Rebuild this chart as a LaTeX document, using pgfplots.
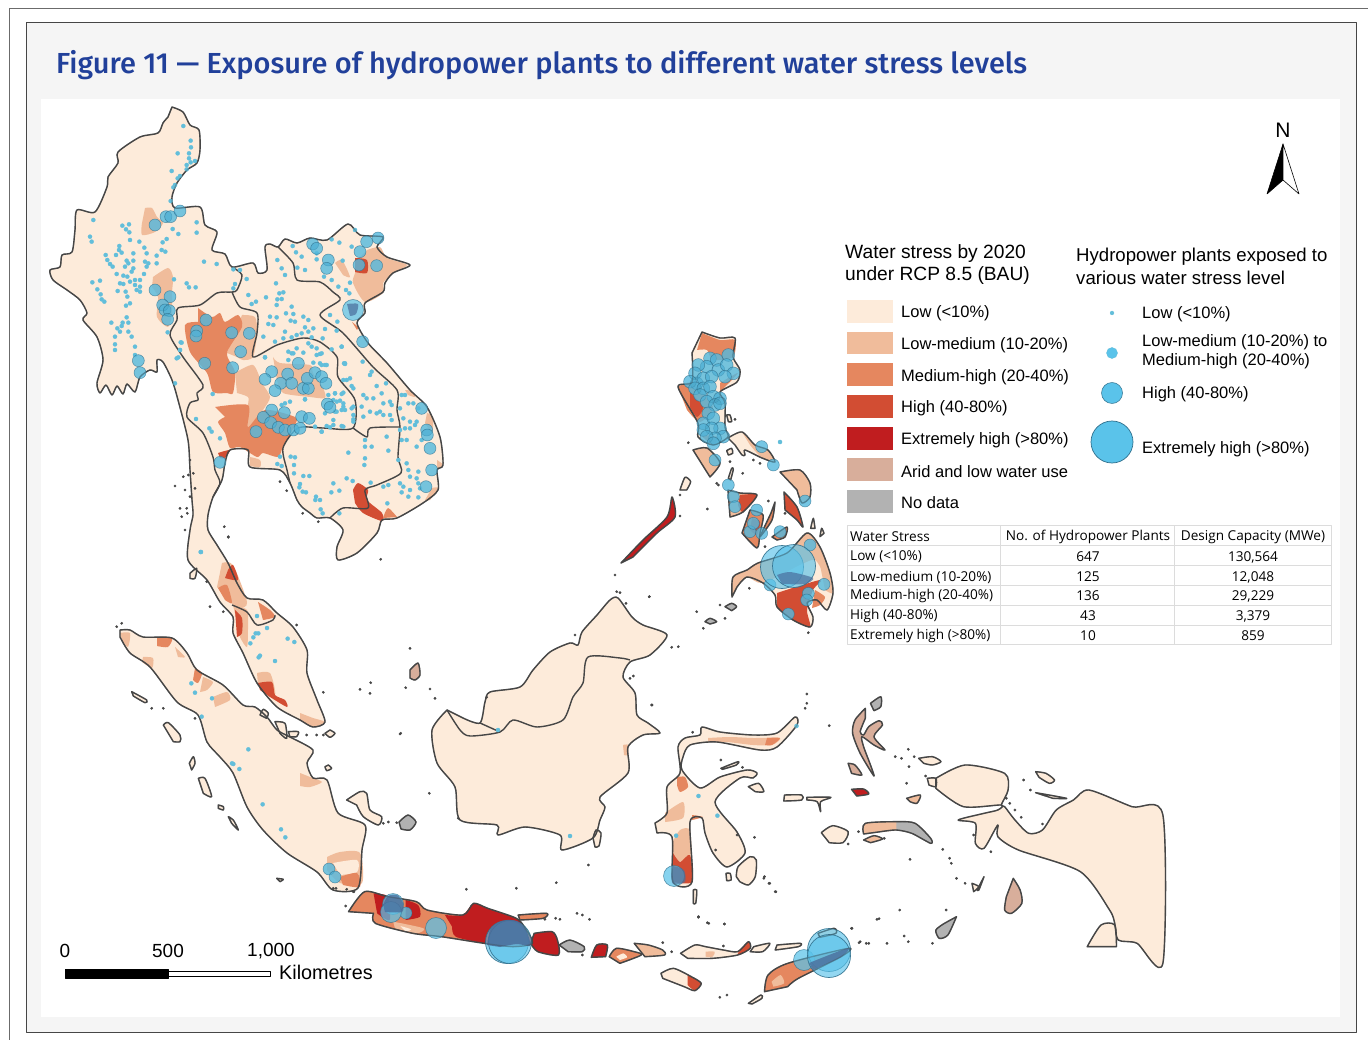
\documentclass[border=0pt]{standalone}
\usepackage{fontspec}
\usepackage{pgfplots}
\pgfplotsset{compat=1.18}
\setmainfont{Liberation Sans}
\newfontfamily\titlef[UprightFont=* Medium]{Fira Sans}
\newfontfamily\tabf{Open Sans}
\definecolor{low}{HTML}{FDEBDA}
\definecolor{lm}{HTML}{F0BC9B}
\definecolor{mh}{HTML}{E5875F}
\definecolor{hi}{HTML}{D24D33}
\definecolor{eh}{HTML}{C01D1F}
\definecolor{arid}{HTML}{D8AE9B}
\definecolor{nod}{HTML}{B2B2B2}
\definecolor{coast}{HTML}{464646}
\definecolor{cb}{HTML}{5AC3EA}
\definecolor{cbd}{HTML}{2F6F8C}
\definecolor{dotc}{HTML}{62BEDA}
\definecolor{titc}{HTML}{21409A}
\definecolor{tabl}{HTML}{DCDCDC}
\definecolor{dk}{HTML}{4A6E9C}
\newcommand\LL[2]{\addplot[#1] coordinates {#2} -- cycle;}
\newcommand\ZZ[5]{\addplot[#1] table[x expr={#2+#3*\thisrowno{0}},y expr={#4+\thisrowno{1}/3},header=false,row sep=\\]{#5} -- cycle;}
\newcommand\ZE[2]{\ZZ{#1}{320}{.357}{850}{#2}}
\newcommand\ZF[2]{\ZZ{#1}{640}{.344}{690}{#2}}
\newcommand\ZG[2]{\ZZ{#1}{100}{.3333}{530}{#2}}
\newcommand\ZC[2]{\ZZ{#1}{600}{.3333}{320}{#2}}
\newcommand\patch[2]{\addplot[fill=#1,draw=none,smooth,tension=.45] coordinates {#2} -- cycle;}
\newcommand\rect[2]{\addplot[fill=#1,draw=none] coordinates {#2} -- cycle;}
\newcommand\Alllands[1]{%
\LL{#1}{(172,107)(183,112)(190,125)(199,130)(200,150)(197,163)(187,170)(177,183)(172,197)(175,208)(200,207)(205,225)(217,232)(212,250)(225,254)(232,267)(253,263)(258,273)(267,270)(265,247)(270,244)(278,247)(285,239)(297,243)(310,238)(327,240)(348,224)(360,235)(383,237)(377,247)(387,257)(410,265)(393,273)(385,283)(383,292)(365,303)(365,313)(357,323)(368,343)(387,363)(410,390)(427,407)(440,437)(443,465)(437,470)(438,490)(423,503)(397,518)(382,520)(377,533)(357,553)(338,560)(337,547)(343,530)(330,518)(317,518)(310,513)(302,507)(297,500)(290,483)(280,470)(250,467)(248,450)(230,450)(225,463)(222,480)(213,497)(208,515)(208,530)(217,545)(228,563)(237,583)(247,598)(263,600)(277,613)(293,627)(307,650)(307,673)(317,700)(325,722)(313,727)(300,720)(277,707)(257,683)(243,653)(233,633)(233,617)(220,602)(207,580)(188,560)(190,530)(193,515)(192,500)(190,470)(188,440)(178,400)(172,380)(163,362)(157,360)(157,372)(150,370)(140,377)(135,392)(127,384)(123,394)(117,386)(112,395)(106,385)(100,393)(97,383)(103,360)(97,337)(83,320)(87,313)(80,300)(67,290)(53,280)(50,270)(60,267)(62,255)(72,252)(75,230)(77,210)(95,212)(107,187)(108,177)(118,163)(118,152)(140,137)(158,133)(163,123)(168,117)}
\LL{#1}{(120,630)(130,630)(143,637)(172,638)(187,653)(197,670)(223,685)(243,705)(255,707)(267,717)(277,730)(290,737)(313,750)(307,763)(313,778)(327,780)(338,813)(365,825)(362,850)(358,888)(333,890)(317,872)(287,853)(263,830)(247,807)(233,773)(220,757)(207,742)(198,715)(177,702)(150,667)(130,653)(120,637)}
\LL{#1}{(447,710)(432,730)(437,763)(455,787)(460,820)(497,825)(498,835)(525,827)(560,835)(562,850)(593,838)(600,820)(605,807)(600,797)(628,773)(628,747)(643,735)(660,733)(648,723)(637,715)(635,693)(623,677)(630,662)(650,655)(667,635)(643,625)(632,617)(618,598)(610,600)(597,615)(582,632)(578,645)(570,643)(550,652)(533,670)(520,687)(490,692)(485,702)(480,723)(463,718)}
\LL{#1}{(655,823)(667,813)(667,787)(680,773)(678,747)(685,738)(700,735)(702,727)(720,732)(753,735)(777,733)(795,717)(797,725)(777,747)(760,750)(717,742)(690,745)(683,757)(682,770)(700,788)(720,777)(747,770)(757,773)(753,778)(740,778)(715,802)(737,832)(745,853)(727,867)(713,853)(705,833)(702,818)(690,822)(692,882)(673,882)(672,837)(657,833)}
\ZF{#1}{860 265\\945 225\\1060 250\\1070 300\\1050 345\\1060 350\\1090 390\\1130 430\\1170 420\\1210 360\\1260 330\\1305 300\\1430 350\\1520 375\\1520 820\\1445 760\\1390 750\\1380 700\\1365 660\\1280 545\\1100 480\\1040 440\\1040 405\\1000 475\\975 460\\975 400\\925 390\\1000 370\\1040 360\\1050 345\\940 350\\860 295\\}
\ZF{#1}{1300 770\\1340 705\\1380 705\\1385 770\\}
\LL{#1}{(702,332)(720,338)(735,338)(733,357)(740,370)(737,382)(720,392)(725,403)(725,427)(728,437)(713,445)(698,437)(698,423)(678,387)(692,382)(692,353)}
\LL{#1}{(728,438)(742,432)(755,445)(768,450)(775,462)(762,458)(745,450)(745,455)(742,455)(735,445)}
\LL{#1}{(693,450)(707,448)(720,463)(710,477)}
\LL{#1}{(621,563)(643,540)(667,517)(672,497)(675,517)(657,533)(633,557)}
\LL{#1}{(780,472)(800,470)(810,483)(810,497)(802,503)(797,490)}
\LL{#1}{(784,492)(797,507)(803,527)(797,520)(785,510)}
\LL{#1}{(728,490)(740,493)(757,495)(743,512)(730,517)}
\LL{#1}{(750,510)(763,515)(760,533)(757,548)(742,533)}
\LL{#1}{(775,502)(772,520)(760,537)(763,530)(771,513)}
\LL{#1}{(772,537)(787,527)(785,537)(777,540)}
\LL{#1}{(732,597)(733,577)(747,570)(758,563)(787,553)(807,533)(820,547)(830,573)(833,593)(827,610)(817,600)(807,603)(813,617)(810,627)(793,620)(777,607)(775,595)(763,583)(747,577)(737,587)}
\ZC{#1}{380 285\\390 285\\395 305\\385 305\\}
\ZC{#1}{380 392\\395 385\\398 400\\385 405\\}
\ZC{#1}{385 475\\395 445\\400 448\\392 480\\}
\ZC{#1}{240 510\\255 472\\272 485\\260 510\\}
\ZC{#1}{632 625\\640 595\\645 625\\}
\ZC{#1}{660 650\\665 625\\672 640\\}
\ZC{#1}{375 860\\395 850\\410 860\\395 872\\}
\ZC{#1}{315 905\\330 895\\350 905\\330 912\\}
\ZE{#1}{80 185\\125 125\\190 140\\270 155\\300 180\\400 195\\430 160\\470 175\\550 205\\575 235\\595 280\\540 290\\460 280\\340 260\\260 250\\155 220\\150 190\\}
\ZE{#1}{555 195\\635 190\\625 205\\560 210\\}
\ZE{#1}{600 250\\650 245\\665 270\\668 315\\610 305\\590 280\\}
\ZE{#1}{670 285\\700 270\\740 290\\735 305\\695 305\\}
\ZE{#1}{760 322\\775 285\\805 285\\800 320\\}
\ZE{#1}{810 320\\830 295\\880 305\\900 315\\840 340\\}
\ZE{#1}{880 280\\920 285\\960 300\\965 315\\910 320\\}
\ZE{#1}{1010 310\\1050 285\\1080 290\\1130 300\\1170 305\\1200 275\\1205 295\\1170 315\\1100 325\\1030 325\\}
\ZE{#1}{955 370\\990 355\\1040 380\\1068 400\\1050 422\\1020 410\\960 385\\}
\ZE{#1}{1245 425\\1255 375\\1310 340\\1480 295\\1460 320\\1340 385\\1310 410\\}
\ZE{#1}{1215 290\\1260 280\\1240 305\\1205 305\\}
\ZE{#1}{1280 285\\1345 280\\1340 290\\1275 300\\}
\ZE{#1}{1395 250\\1440 235\\1445 250\\1400 262\\}
\ZE{#1}{1200 460\\1235 435\\1238 445\\1210 462\\}
\ZF{#1}{655 55\\625 90\\618 130\\640 190\\680 258\\670 225\\650 170\\645 140\\680 165\\712 180\\680 140\\705 105\\695 92\\665 110\\650 135\\640 125\\655 85\\}
\ZF{#1}{670 40\\700 20\\700 50\\680 62\\}
\ZF{#1}{605 220\\625 225\\645 255\\615 250\\}
\ZF{#1}{615 298\\650 297\\665 312\\630 318\\}
\ZF{#1}{420 315\\470 315\\470 330\\418 333\\}
\ZF{#1}{485 322\\555 322\\525 335\\525 365\\515 335\\485 330\\}
\ZF{#1}{527 428\\560 407\\605 425\\590 458\\550 458\\}
\ZF{#1}{650 432\\655 400\\750 395\\800 400\\845 445\\845 460\\790 430\\745 420\\700 425\\}
\ZF{#1}{650 450\\680 437\\705 447\\670 458\\}
\ZF{#1}{315 290\\345 280\\360 305\\335 305\\}
\ZF{#1}{235 235\\285 215\\280 225\\240 238\\}
\ZF{#1}{280 560\\285 530\\320 500\\338 510\\335 560\\315 585\\290 575\\}
\ZF{#1}{250 550\\262 550\\265 570\\252 572\\}
\ZF{#1}{155 600\\165 600\\162 640\\155 640\\}
\ZF{#1}{1150 245\\1180 250\\1205 270\\1190 280\\1160 262\\}
\ZF{#1}{1150 308\\1240 325\\1200 325\\}
\ZF{#1}{775 325\\815 315\\805 340\\785 335\\}
\ZF{#1}{810 205\\850 200\\875 215\\850 225\\825 220\\}
\ZF{#1}{835 265\\860 265\\860 290\\840 285\\}
\ZF{#1}{1085 565\\1105 600\\1110 640\\1080 670\\1060 660\\1065 620\\}
\ZF{#1}{920 680\\895 735\\870 745\\860 720\\885 700\\}
\ZF{#1}{965 580\\985 590\\970 605\\}
\ZF{#1}{1000 560\\985 600\\980 600\\}
\ZG{#1}{95 485\\140 510\\135 518\\100 498\\}
\ZG{#1}{190 585\\205 578\\240 615\\240 635\\220 635\\}
\ZG{#1}{268 700\\280 680\\285 700\\275 720\\}
\ZG{#1}{295 745\\315 745\\335 800\\310 790\\}
\ZG{#1}{355 825\\370 830\\370 840\\355 835\\}
\ZG{#1}{385 860\\400 870\\415 900\\395 880\\}
\ZG{#1}{270 130\\290 115\\285 145\\270 145\\}
\ZG{#1}{480 555\\490 538\\505 550\\500 565\\}
\ZG{#1}{740 810\\780 785\\800 790\\810 840\\845 860\\835 885\\790 860\\770 825\\}
\ZG{#1}{690 600\\705 610\\690 622\\675 610\\}
\ZG{#1}{685 705\\695 715\\680 722\\675 710\\}
\ZG{#1}{525 575\\555 580\\560 625\\540 610\\}
\ZG{#1}{565 605\\595 605\\590 620\\570 620\\}
\ZG{#1}{530 1045\\550 1048\\540 1055\\}
\LL{#1}{(410,670)(418,663)(420,675)(415,680)(410,678)}
\LL{#1}{(399,822)(408,815)(416,822)(410,830)(401,829)}
\LL{#1}{(593,838)(596,830)(601,833)(599,846)(595,847)}
}
\newcommand\MidC[1]{%
\addplot[only marks,mark=*,mark size=6pt,mark options={#1}] table[x expr={40+\thisrowno{0}/3},y expr={100+\thisrowno{1}/3},header=false,row sep=\\] {345 375\\378 350\\392 350\\345 570\\390 590\\368 615\\375 630\\388 632\\383 658\\295 782\\300 818\\498 660\\470 693\\468 708\\575 698\\628 700\\602 755\\494 790\\578 803\\1010 497\\957 495\\960 455\\980 425\\865 480\\860 505\\818 432\\830 445\\968 725\\};
\addplot[only marks,mark=*,mark size=6pt,mark options={#1}] table[x expr={170+\thisrowno{0}/3},y expr={300+\thisrowno{1}/3},header=false,row sep=\\] {755 325\\770 390\\772 405\\780 445\\785 510\\768 560\\150 487\\};
\addplot[only marks,mark=*,mark size=6pt,mark options={#1}] table[x expr={250+\thisrowno{0}/3},y expr={350+\thisrowno{1}/3},header=false,row sep=\\] {65 65\\45 88\\113 72\\92 100\\125 100\\75 122\\65 180\\103 188\\40 202\\62 218\\85 232\\105 240\\130 240\\155 200\\178 205\\232 162\\240 172\\160 115\\175 115\\172 85\\195 68\\215 80\\228 100\\145 40\\18 245\\150 235\\};
\addplot[only marks,mark=*,mark size=6.4pt,mark options={#1}] table[x expr={670+\thisrowno{0}/3},y expr={340+\thisrowno{1}/3},header=false,row sep=\\] {120 55\\175 45\\140 60\\110 80\\85 75\\75 100\\145 90\\170 75\\190 100\\165 110\\80 130\\100 115\\125 110\\60 125\\75 145\\100 145\\120 140\\130 170\\150 175\\90 165\\110 185\\135 195\\115 220\\100 250\\130 235\\150 265\\125 265\\100 270\\150 190\\160 290\\135 295\\110 290\\130 310\\};
\addplot[only marks,mark=*,mark size=6pt,mark options={#1}] table[x expr={600+\thisrowno{0}/3},y expr={320+\thisrowno{1}/3},header=false,row sep=\\] {485 380\\345 420\\520 435\\385 495\\400 530\\405 560\\470 570\\450 635\\485 640\\460 610\\540 635\\615 543\\625 820\\620 840\\672 793\\565 882\\630 675\\510 795\\};
\addplot[only marks,mark=*,mark size=6pt,mark options={#1}] coordinates {(329,869)(335,877)(406,913)(378,238)(180,211)};
}
\begin{document}
\begin{tikzpicture}
\begin{axis}[hide axis,scale only axis,width=1368pt,height=1040pt,xmin=0,xmax=1368,ymin=0,ymax=1040,y dir=reverse,line join=round,clip marker paths=true,
 /pgf/number format/assume math mode=true]
\addplot[fill=white,draw=none] coordinates {(0,0)(1368,0)(1368,1040)(0,1040)} -- cycle;
\addplot[draw=coast!80,line width=.7pt] coordinates {(1368,8)(9,8)(9,1040)};
\addplot[fill=black!4,draw=coast,line width=.7pt] coordinates {(26,22)(1356,22)(1356,1032)(26,1032)} -- cycle;
\addplot[fill=white,draw=none] coordinates {(41,99)(1340,99)(1340,1017)(41,1017)} -- cycle;
\Alllands{fill=low,draw=none,smooth,tension=.45}
\ZF{fill=arid,draw=none,smooth,tension=.45}{655 55\\625 90\\618 130\\640 190\\680 258\\670 225\\650 170\\645 140\\680 165\\712 180\\680 140\\705 105\\695 92\\665 110\\650 135\\640 125\\655 85\\}
\ZF{fill=arid,draw=none,smooth,tension=.45}{1085 565\\1105 600\\1110 640\\1080 670\\1060 660\\1065 620\\}
\ZF{fill=arid,draw=none,smooth,tension=.45}{605 220\\625 225\\645 255\\615 250\\}
\ZF{fill=nod,draw=none,smooth,tension=.45}{670 40\\700 20\\700 50\\680 62\\}
\ZF{fill=nod,draw=none,smooth,tension=.45}{920 680\\895 735\\870 745\\860 720\\885 700\\}
\ZF{fill=eh,draw=none,smooth,tension=.45}{615 298\\650 297\\665 312\\630 318\\}
\ZF{fill=lm,draw=none,smooth,tension=.45}{775 325\\815 315\\805 340\\785 335\\}
\ZF{fill=lm,draw=none,smooth,tension=.45}{650 432\\655 400\\750 395\\745 420\\700 425\\}
\ZF{fill=nod,draw=none,smooth,tension=.45}{745 395\\800 400\\845 445\\845 460\\790 430\\745 420\\}
\ZF{fill=lm,draw=none,smooth,tension=.45}{650 450\\680 437\\705 447\\670 458\\}
\patch{nod}{(399,822)(408,815)(416,822)(410,830)(401,829)}
\patch{arid}{(410,670)(418,663)(420,675)(415,680)(410,678)}
\ZC{fill=nod,draw=none,smooth,tension=.45}{375 860\\395 850\\410 860\\395 872\\}
\ZC{fill=nod,draw=none,smooth,tension=.45}{315 905\\330 895\\350 905\\330 912\\}
\ZE{fill=mh,draw=none,smooth,tension=.45}{80 185\\125 125\\190 140\\270 155\\300 180\\400 195\\430 160\\470 175\\550 205\\575 235\\595 280\\540 290\\460 280\\340 260\\260 250\\155 220\\150 190\\}
\ZE{fill=eh,draw=none,smooth,tension=.45}{150 130\\190 140\\195 210\\160 190\\}
\ZE{fill=eh,draw=none,smooth,tension=.45}{240 150\\275 165\\280 200\\240 210\\}
\ZE{fill=eh,draw=none,smooth,tension=.45}{350 195\\400 195\\430 160\\470 175\\550 205\\575 235\\595 280\\540 290\\460 280\\380 260\\370 230\\}
\ZE{fill=lm,draw=none,smooth,tension=.45}{205 215\\290 235\\270 250\\210 235\\}
\ZE{fill=low,draw=none,smooth,tension=.45}{225 228\\255 238\\240 245\\}
\ZE{fill=mh,draw=none,smooth,tension=.45}{555 195\\635 190\\625 205\\560 210\\}
\ZE{fill=eh,draw=none,smooth,tension=.45}{600 250\\650 245\\665 270\\668 315\\610 305\\590 280\\}
\ZE{fill=nod,draw=none,smooth,tension=.45}{670 285\\700 270\\740 290\\735 305\\695 305\\}
\ZE{fill=eh,draw=none,smooth,tension=.45}{760 322\\775 285\\805 285\\800 320\\}
\ZE{fill=mh,draw=none,smooth,tension=.45}{810 320\\830 295\\880 305\\900 315\\840 340\\}
\ZE{fill=low,draw=none,smooth,tension=.45}{830 320\\850 310\\860 322\\840 330\\}
\ZE{fill=lm,draw=none,smooth,tension=.45}{880 280\\920 285\\960 300\\965 315\\910 320\\}
\ZE{fill=lm,draw=none,smooth,tension=.45}{1080 305\\1105 305\\1100 320\\1080 320\\}
\ZE{fill=hi,draw=none,smooth,tension=.45}{1170 310\\1200 275\\1205 295\\1175 315\\}
\ZE{fill=hi,draw=none,smooth,tension=.45}{1030 375\\1068 400\\1050 422\\1030 405\\}
\ZE{fill=mh,draw=none,smooth,tension=.45}{1245 425\\1255 375\\1310 340\\1480 295\\1460 320\\1340 385\\1310 410\\}
\ZE{fill=lm,draw=none,smooth,tension=.45}{1265 395\\1290 375\\1300 400\\1270 410\\}
\patch{lm}{(708,738)(730,737)(753,738)(780,738)(772,745)(753,745)(727,742)(708,742)}
\patch{mh}{(767,738)(780,738)(772,745)(765,745)}
\patch{mh}{(677,777)(685,777)(688,787)(680,792)(677,785)}
\patch{lm}{(665,813)(683,802)(683,818)(665,822)}
\patch{lm}{(672,843)(680,830)(690,830)(690,857)(673,862)}
\patch{hi}{(673,853)(680,862)(690,855)(692,882)(673,882)}
\patch{mh}{(692,815)(703,817)(692,820)}
\patch{lm}{(222,563)(233,565)(247,602)(240,608)(230,602)(217,587)}
\patch{mh}{(218,588)(227,585)(232,603)(225,600)}
\patch{hi}{(228,570)(233,565)(238,580)(225,578)}
\patch{lm}{(233,605)(247,610)(248,627)(247,647)(240,637)(237,623)}
\patch{hi}{(235,610)(242,618)(242,633)(237,637)}
\patch{mh}{(258,602)(270,610)(275,617)(263,620)}
\patch{lm}{(257,673)(270,673)(275,695)(258,685)}
\patch{hi}{(258,683)(272,682)(275,695)(285,700)(287,707)(270,697)(260,690)}
\patch{lm}{(300,713)(313,718)(325,722)(313,727)(300,720)}
\patch{mh}{(157,638)(172,638)(168,647)(157,646)}
\patch{lm}{(120,633)(130,633)(128,647)(122,640)}
\patch{lm}{(143,657)(153,658)(152,668)(142,662)}
\patch{lm}{(175,647)(185,657)(178,657)}
\patch{mh}{(195,668)(202,673)(198,683)(193,680)}
\patch{lm}{(203,677)(213,682)(207,690)(200,692)}
\patch{lm}{(213,697)(227,692)(230,700)(215,707)}
\patch{lm}{(300,773)(310,777)(322,782)(310,787)(300,786)}
\patch{lm}{(327,857)(340,852)(360,853)(362,883)(340,883)(327,870)}
\patch{low}{(333,863)(357,860)(357,872)(340,875)}
\patch{mh}{(340,877)(357,873)(360,887)(343,885)}
\patch{lm}{(623,745)(628,745)(628,755)(624,755)}
\patch{lm}{(145,208)(152,208)(157,217)(163,223)(155,232)(142,235)(142,223)}
\patch{lm}{(153,277)(168,268)(173,277)(172,293)(172,313)(168,327)(157,317)(158,297)(152,287)}
\patch{lm}{(367,250)(380,247)(387,258)(407,265)(393,273)(383,283)(383,293)(365,302)(353,283)(355,273)(357,260)}
\patch{hi}{(355,258)(367,260)(367,273)(355,272)}
\patch{lm}{(335,263)(342,260)(350,277)(343,275)}
\patch{mh}{(352,322)(358,327)(357,330)}
\patch{lm}{(242,315)(255,317)(257,333)(253,357)(243,360)(237,357)(227,353)}
\patch{mh}{(198,308)(212,317)(220,313)(225,322)(238,315)(242,327)(227,353)(235,372)(233,393)(227,393)(213,392)(207,373)(190,352)(185,325)(198,322)}
\patch{lm}{(235,373)(253,365)(262,383)(270,397)(263,410)(250,427)(247,423)(248,405)(248,397)(237,393)}
\patch{mh}{(215,407)(248,405)(248,427)(265,410)(295,417)(295,425)(283,447)(278,457)(263,453)(257,457)(240,447)(230,448)(225,433)(218,422)(225,417)}
\patch{lm}{(273,357)(280,363)(310,365)(313,373)(323,388)(325,398)(310,397)(283,393)(277,380)}
\patch{lm}{(250,457)(260,460)(260,467)(250,466)}
\patch{hi}{(218,453)(230,450)(225,458)(220,458)}
\patch{hi}{(353,490)(358,483)(368,490)(367,500)(382,513)(382,521)(363,513)(355,503)}
\patch{mh}{(383,518)(388,508)(397,517)}
\patch{lm}{(427,413)(433,417)(432,433)(425,423)}
\patch{lm}{(437,460)(443,465)(437,470)}
\patch{lm}{(405,390)(411,391)(415,397)(408,395)}
\patch{lm}{(432,488)(438,488)(430,500)(425,500)}
\patch{mh}{(702,333)(720,340)(735,340)(733,357)(713,360)(707,350)(697,350)}
\patch{mh}{(678,387)(692,383)(713,407)(700,422)(687,410)}
\patch{hi}{(690,392)(703,407)(697,417)(690,407)}
\patch{mh}{(720,383)(738,373)(720,392)}
\patch{mh}{(698,433)(713,445)(717,437)(703,435)}
\patch{lm}{(742,432)(755,445)(768,450)(775,462)(762,458)(750,445)}
\patch{lm}{(693,450)(707,448)(720,463)(710,477)}
\patch{eh}{(621,563)(643,540)(667,517)(672,497)(675,517)(657,533)(633,557)}
\patch{lm}{(780,472)(800,470)(810,483)(810,497)(802,503)(797,490)}
\patch{hi}{(784,492)(797,507)(803,527)(797,520)(785,510)}
\patch{lm}{(728,490)(740,493)(757,495)(743,512)(730,517)}
\patch{hi}{(740,495)(757,495)(743,512)(738,505)}
\patch{mh}{(750,510)(763,515)(760,533)(757,548)(742,533)}
\patch{hi}{(752,518)(760,522)(757,535)(750,530)}
\patch{mh}{(775,502)(772,520)(760,537)(763,530)(771,513)}
\patch{mh}{(772,537)(787,527)(785,537)(777,540)}
\patch{lm}{(732,597)(733,577)(747,570)(758,563)(787,553)(807,533)(820,547)(830,573)(825,575)(815,560)(800,565)(763,583)(747,577)(737,587)}
\patch{hi}{(777,593)(820,580)(813,590)(807,610)(810,627)(793,620)(777,607)}
\patch{mh}{(815,590)(825,597)(820,605)(812,608)}
\patch{lm}{(820,565)(830,573)(833,593)(825,590)}
\Alllands{fill=none,draw=coast,line width=1.4pt,smooth,tension=.45}
\addplot[draw=coast,line width=1.4pt,smooth,tension=.45] coordinates {(232,267)(242,275)(237,290)(232,292)(217,293)(200,305)(178,308)(177,320)(170,335)(183,357)(203,385)(197,393)(198,400)(190,403)(187,417)(203,433)(213,457)(215,470)(220,483)(213,497)};
\addplot[draw=coast,line width=1.4pt,smooth,tension=.45] coordinates {(232,292)(240,307)(257,313)(257,333)(253,357)(277,345)(303,338)(320,342)(337,357)(338,377)(355,400)(353,428)(323,428)(298,428)(283,448)(287,470)(290,483)};
\addplot[draw=coast,line width=1.4pt,smooth,tension=.45] coordinates {(278,247)(293,263)(297,280)(320,282)(333,292)(340,300)(320,315)(343,333)(373,367)(397,390)(397,410)(400,427)(398,457)(401,473)(377,485)(365,490)(368,508)(343,508)(330,518)};
\addplot[draw=coast,line width=1.4pt,smooth,tension=.45] coordinates {(353,428)(367,437)(370,428)(400,427)};
\addplot[draw=coast,line width=1.4pt,smooth,tension=.45] coordinates {(232,605)(247,612)(257,625)(273,620)(275,615)};
\addplot[draw=coast,line width=1.4pt,smooth,tension=.45] coordinates {(447,710)(460,730)(470,736)(500,732)(513,720)(537,727)(563,720)(573,697)(583,683)(588,657)(620,658)(630,660)};
\addplot[draw=coast,line width=1.4pt] coordinates {(480,723)(500,732)};
\addplot[only marks,mark=*,mark size=1.2pt,coast] table[x expr={170+\thisrowno{0}/3},y expr={300+\thisrowno{1}/3},header=false,row sep=\\] {60 480\\55 525\\40 530\\70 520\\45 570\\75 565\\60 590\\30 625\\50 625\\52 640\\45 690\\35 650\\15 558\\163 680\\175 710\\330 545\\350 572\\398 640\\445 665\\632 778\\};
\addplot[only marks,mark=*,mark size=1.2pt,coast] table[x expr={600+\thisrowno{0}/3},y expr={320+\thisrowno{1}/3},header=false,row sep=\\] {265 368\\405 298\\460 420\\480 430\\390 425\\428 460\\350 490\\355 495\\322 567\\240 525\\240 588\\505 543\\555 580\\45 765\\50 815\\148 830\\290 875\\360 855\\375 895\\310 925\\625 938\\495 680\\448 805\\};
\addplot[only marks,mark=*,mark size=1.2pt,coast] table[x expr={400+\thisrowno{0}/3},y expr={590+\thisrowno{1}/3},header=false,row sep=\\] {30 175\\17 293\\90 297\\105 325\\2 430\\525 135\\748 20\\815 172\\835 170\\755 345\\678 40\\700 258\\690 265\\88 610\\175 685\\660 8\\260 322\\};
\addplot[only marks,mark=*,mark size=1.2pt,coast] table[x expr={100+\thisrowno{0}/3},y expr={530+\thisrowno{1}/3},header=false,row sep=\\] {50 290\\65 280\\385 22\\330 230\\370 245\\320 155\\590 285\\670 487\\780 478\\812 458\\810 490\\900 612\\850 880\\155 535\\190 535\\285 565\\700 1075\\740 1078\\760 1085\\865 876\\890 878\\620 615\\650 615\\670 615\\};
\addplot[only marks,mark=*,mark size=1.2pt,coast] table[x expr={640+.344*\thisrowno{0}},y expr={690+\thisrowno{1}/3},header=false,row sep=\\] {35 45\\485 12\\485 40\\480 55\\550 107\\153 127\\235 210\\298 232\\170 680\\200 700\\245 702\\360 565\\375 580\\395 605\\615 715\\695 686\\755 660\\640 755\\665 760\\718 760\\768 738\\780 755\\850 760\\890 660\\920 565\\945 580\\785 508\\905 520\\880 478\\900 505\\1115 270\\1135 300\\742 200\\760 205\\780 178\\797 200\\782 230\\775 280\\830 258\\635 425\\605 462\\710 445\\970 435\\1020 485\\1065 325\\1075 340\\1090 360\\1108 382\\1170 402\\282 435\\333 442\\220 480\\};
\addplot[only marks,mark=*,mark size=1.2pt,coast] table[x expr={320+.357*\thisrowno{0}},y expr={850+\thisrowno{1}/3},header=false,row sep=\\] {72 168\\410 118\\550 115\\662 98\\752 45\\630 208\\660 205\\672 208\\735 315\\720 190\\735 195\\755 208\\960 278\\985 305\\1130 288\\1060 202\\1085 218\\1133 222\\1140 435\\1120 442\\1245 80\\1260 100\\1275 125\\1490 235\\1560 208\\1510 278\\1530 280\\45 115\\95 125\\};
\addplot[only marks,mark=*,mark size=2.1pt,mark options={fill=dotc,draw=dotc,line width=.2pt}] table[x expr={40+\thisrowno{0}/3},y expr={100+\thisrowno{1}/3},header=false,row sep=\\] {430 78\\452 122\\453 142\\413 160\\447 160\\447 175\\452 187\\465 183\\440 195\\440 208\\395 213\\420 228\\413 235\\405 255\\400 262\\392 303\\160 360\\247 377\\267 373\\258 388\\268 397\\398 387\\415 402\\470 367\\470 398\\150 410\\155 425\\270 420\\298 425\\313 443\\380 417\\368 427\\238 438\\237 450\\365 450\\376 455\\280 460\\320 460\\350 467\\197 465\\228 465\\245 458\\350 490\\492 485\\530 492\\202 480\\210 492\\218 500\\315 485\\325 490\\260 482\\280 482\\265 490\\255 500\\280 505\\275 515\\230 522\\250 527\\262 530\\312 522\\320 500\\285 540\\300 540\\270 545\\157 547\\180 542\\240 550\\250 552\\285 555\\300 560\\290 570\\300 575\\172 568\\182 583\\185 598\\193 605\\233 573\\257 575\\262 590\\270 610\\258 617\\402 538\\440 550\\447 562\\467 562\\214 668\\248 668\\260 652\\265 668\\245 678\\232 685\\240 695\\225 710\\225 733\\225 750\\265 695\\275 710\\285 740\\285 765\\383 697\\425 728\\420 750\\410 775\\580 508\\600 510\\620 537\\585 552\\580 565\\625 585\\635 612\\648 605\\678 592\\708 550\\735 525\\725 505\\712 480\\718 580\\730 577\\712 598\\725 597\\710 615\\755 620\\738 640\\760 642\\752 662\\765 665\\690 650\\710 652\\685 672\\700 675\\670 710\\705 725\\730 715\\755 712\\770 705\\735 695\\790 650\\805 660\\795 682\\820 685\\855 687\\805 695\\785 700\\848 715\\815 712\\875 748\\905 740\\912 790\\968 785\\870 645\\892 665\\890 692\\918 570\\928 580\\930 548\\895 560\\875 540\\852 530\\795 510\\772 503\\768 457\\785 470\\758 438\\830 478\\830 460\\875 418\\898 428\\935 440\\908 482\\945 390\\745 755\\755 760\\770 745\\805 730\\815 740\\830 745\\845 760\\840 790\\855 795\\};
\addplot[only marks,mark=*,mark size=2.1pt,mark options={fill=dotc,draw=dotc,line width=.2pt}] table[x expr={170+\thisrowno{0}/3},y expr={300+\thisrowno{1}/3},header=false,row sep=\\] {32 127\\30 150\\25 172\\128 282\\78 357\\118 385\\125 395\\150 415\\15 250\\92 756\\285 172\\515 140\\525 190\\520 240\\530 240\\545 258\\495 280\\515 282\\405 298\\500 305\\520 310\\550 320\\465 340\\495 335\\515 330\\525 330\\550 345\\550 365\\470 378\\490 375\\515 378\\455 395\\575 320\\580 350\\580 285\\590 295\\605 215\\600 225\\620 258\\648 250\\635 280\\610 295\\640 310\\660 305\\665 315\\690 325\\600 335\\620 340\\630 335\\640 345\\660 345\\665 360\\695 285\\705 285\\715 310\\730 310\\745 325\\650 410\\700 355\\720 365\\740 365\\690 390\\705 385\\720 385\\695 420\\710 420\\735 375\\740 440\\755 420\\585 420\\605 440\\585 440\\655 452\\535 458\\585 475\\583 495\\710 490\\715 510\\745 515\\685 480\\690 550\\700 560\\720 530\\740 535\\745 550\\750 565\\720 570\\655 555\\640 560\\602 548\\530 535\\548 543\\490 550\\508 572\\484 577\\418 528\\400 528\\372 520\\390 552\\388 562\\398 575\\408 577\\438 590\\436 600\\450 600\\452 628\\458 640\\508 640\\652 610\\695 577\\715 590\\745 592\\362 470\\375 472\\372 495\\330 470\\322 492\\335 498\\};
\addplot[only marks,mark=*,mark size=2.1pt,mark options={fill=dotc,draw=dotc,line width=.2pt}] table[x expr={250+\thisrowno{0}/3},y expr={350+\thisrowno{1}/3},header=false,row sep=\\] {45 22\\115 30\\130 10\\160 8\\200 15\\210 12\\190 38\\215 45\\230 45\\285 42\\300 85\\310 115\\280 128\\255 130\\235 135\\250 150\\270 152\\280 170\\260 185\\250 210\\305 175\\310 208\\120 155\\105 160\\95 165\\165 148\\280 230\\240 232\\215 245\\195 230\\};
\addplot[only marks,mark=*,mark size=2.1pt,mark options={fill=dotc,draw=dotc,line width=.2pt}] table[x expr={100+\thisrowno{0}/3},y expr={530+\thisrowno{1}/3},header=false,row sep=\\] {303 66\\471 258\\501 294\\467 310\\475 310\\460 322\\451 340\\563 326\\583 336\\480 377\\476 382\\525 393\\274 460\\285 488\\336 505\\305 560\\445 658\\396 700\\400 702\\418 717\\488 823\\543 898\\556 922\\};
\addplot[only marks,mark=*,mark size=2.1pt,mark options={fill=dotc,draw=dotc,line width=.2pt}] table[x expr={640+.344*\thisrowno{0}},y expr={690+\thisrowno{1}/3},header=false,row sep=\\] {170 318\\225 377\\105 437\\455 108\\};
\addplot[only marks,mark=*,mark size=2.1pt,mark options={fill=dotc,draw=dotc,line width=.2pt}] coordinates {(498,730)(570,836)(780,442)};
\MidC{fill=cb,fill opacity=.8,draw=cbd,draw opacity=.55,line width=.5pt}
\MidC{fill=black,fill opacity=.04,draw=cbd,draw opacity=.2,line width=.4pt}
\addplot[only marks,mark=*,mark size=10.5pt,mark options={fill=cb,fill opacity=.72,draw=cbd,draw opacity=.8,line width=.5pt}] coordinates {(353,310)(393,904)(391,912)(436,928)(674,876)(804,960)};
\addplot[only marks,mark=*,mark size=21.5pt,mark options={fill=cb,fill opacity=.65,draw=cbd,draw opacity=.9,line width=.7pt}] coordinates {(782,567)(794,566)(507,942)(510,942)(829,950)(829,956)};
\addplot[fill=dk,fill opacity=.85,draw=none,smooth,tension=.45] coordinates {(487,945)(490,930)(497,923)(507,920)(517,921)(525,928)(529,938)(530,946)(517,944)(500,947)} -- cycle;
\addplot[fill=dk,fill opacity=.8,draw=none,smooth,tension=.45] coordinates {(809,963)(848,948)(841,957)(813,970)} -- cycle;
\addplot[fill=dk,fill opacity=.7,draw=none,smooth,tension=.45] coordinates {(777,575)(790,572)(813,578)(805,584)(782,584)} -- cycle;
\addplot[fill=dk,fill opacity=.8,draw=none,smooth,tension=.45] coordinates {(383,905)(388,896)(397,895)(403,903)(402,912)(385,912)} -- cycle;
\addplot[fill=dk,fill opacity=.6,draw=none,smooth,tension=.45] coordinates {(673,866)(684,870)(685,882)(673,884)(671,875)} -- cycle;
\addplot[fill=dk,fill opacity=.7,draw=none,smooth,tension=.45] coordinates {(347,304)(358,304)(356,314)(350,316)} -- cycle;
% coast showing through the plant circles
\Alllands{fill=none,draw=coast,draw opacity=.35,line width=1.2pt,smooth,tension=.45}
\rect{low}{(847,300)(893,300)(893,323)(847,323)}
\rect{lm}{(847,332)(893,332)(893,354)(847,354)}
\rect{mh}{(847,363)(893,363)(893,386)(847,386)}
\rect{hi}{(847,395)(893,395)(893,418)(847,418)}
\rect{eh}{(847,427)(893,427)(893,450)(847,450)}
\rect{arid}{(847,458)(893,458)(893,481)(847,481)}
\rect{nod}{(847,490)(893,490)(893,513)(847,513)}
\addplot[only marks,mark=*,mark size=2pt,mark options={fill=dotc,draw=dotc,line width=.2pt}] coordinates {(1112,313)};
\addplot[only marks,mark=*,mark size=5.5pt,mark options={fill=cb,draw=dotc}] coordinates {(1112,353)};
\addplot[only marks,mark=*,mark size=10.5pt,mark options={fill=cb,draw=cbd,line width=.5pt}] coordinates {(1112,393)};
\addplot[only marks,mark=*,mark size=21pt,mark options={fill=cb,draw=cbd,line width=.7pt}] coordinates {(1112,442)};
\addplot[draw=tabl,line width=.7pt] coordinates {(847,525)(1331,525)(1331,644)(847,644)(847,525)};
\addplot[draw=tabl,line width=.7pt] coordinates {(847,545)(1331,545)};
\addplot[draw=tabl,line width=.7pt] coordinates {(847,565)(1331,565)};
\addplot[draw=tabl,line width=.7pt] coordinates {(847,585)(1331,585)};
\addplot[draw=tabl,line width=.7pt] coordinates {(847,605)(1331,605)};
\addplot[draw=tabl,line width=.7pt] coordinates {(847,625)(1331,625)};
\addplot[draw=tabl,line width=.7pt] coordinates {(1000,525)(1000,644)};
\addplot[draw=tabl,line width=.7pt] coordinates {(1174,525)(1174,644)};
\addplot[fill=black,draw=black,line width=.6pt] coordinates {(1283,144)(1267,194)(1283,180)} -- cycle;
\addplot[fill=white,draw=black,line width=.6pt] coordinates {(1283,144)(1299,194)(1283,180)} -- cycle;
\addplot[fill=black,draw=black,line width=.6pt] coordinates {(65,969)(168,969)(168,978)(65,978)} -- cycle;
\addplot[fill=white,draw=black,line width=.6pt] coordinates {(168,971)(270,971)(270,976)(168,976)} -- cycle;
\node[anchor=west,inner sep=0,text=titc] at (axis cs:56,65) {\titlef\fontsize{29}{31}\selectfont Figure 11 — Exposure of hydropower plants to different water stress levels};
\node[inner sep=0] at (axis cs:1283,130) {\fontsize{21}{22}\selectfont N};
\node[inner sep=0] at (axis cs:65,951) {\fontsize{19}{21}\selectfont 0};
\node[inner sep=0] at (axis cs:168,951) {\fontsize{19}{21}\selectfont 500};
\node[inner sep=0] at (axis cs:271,951) {\fontsize{19}{21}\selectfont 1,000};
\node[anchor=west,inner sep=0] at (axis cs:279,972) {\fontsize{19.8}{21}\selectfont Kilometres};
\node[anchor=west,inner sep=0] at (axis cs:845,254) {\fontsize{19.2}{21}\selectfont Water stress by 2020};
\node[anchor=west,inner sep=0] at (axis cs:845,276) {\fontsize{19.2}{21}\selectfont under RCP 8.5 (BAU)};
\node[anchor=west,inner sep=0] at (axis cs:1076,257) {\fontsize{18.6}{21}\selectfont Hydropower plants exposed to};
\node[anchor=west,inner sep=0] at (axis cs:1076,278) {\fontsize{18.6}{21}\selectfont various water stress level};
\node[anchor=west,inner sep=0] at (axis cs:901,313) {\fontsize{16.5}{19}\selectfont Low (<10\%)};
\node[anchor=west,inner sep=0] at (axis cs:901,345) {\fontsize{16.5}{19}\selectfont Low-medium (10-20\%)};
\node[anchor=west,inner sep=0] at (axis cs:901,377) {\fontsize{16.5}{19}\selectfont Medium-high (20-40\%)};
\node[anchor=west,inner sep=0] at (axis cs:901,408) {\fontsize{16.5}{19}\selectfont High (40-80\%)};
\node[anchor=west,inner sep=0] at (axis cs:901,440) {\fontsize{16.5}{19}\selectfont Extremely high (>80\%)};
\node[anchor=west,inner sep=0] at (axis cs:901,472) {\fontsize{16.5}{19}\selectfont Arid and low water use};
\node[anchor=west,inner sep=0] at (axis cs:901,503) {\fontsize{16.5}{19}\selectfont No data};
\node[anchor=west,inner sep=0] at (axis cs:1142,314) {\fontsize{16.5}{19}\selectfont Low (<10\%)};
\node[anchor=west,inner sep=0] at (axis cs:1142,342) {\fontsize{16.5}{19}\selectfont Low-medium (10-20\%) to};
\node[anchor=west,inner sep=0] at (axis cs:1142,361) {\fontsize{16.5}{19}\selectfont Medium-high (20-40\%)};
\node[anchor=west,inner sep=0] at (axis cs:1142,394) {\fontsize{16.5}{19}\selectfont High (40-80\%)};
\node[anchor=west,inner sep=0] at (axis cs:1142,449) {\fontsize{16.5}{19}\selectfont Extremely high (>80\%)};
\node[anchor=west,inner sep=0] at (axis cs:850,537) {\tabf\fontsize{13.6}{15}\selectfont Water Stress};
\node[inner sep=0] at (axis cs:1088,537) {\tabf\fontsize{13.6}{15}\selectfont No. of Hydropower Plants};
\node[inner sep=0] at (axis cs:1253,537) {\tabf\fontsize{13.6}{15}\selectfont Design Capacity (MWe)};
\node[anchor=west,inner sep=0] at (axis cs:850,557) {\tabf\fontsize{13.6}{15}\selectfont Low (<10\%)};
\node[inner sep=0] at (axis cs:1088,557) {\tabf\fontsize{13.6}{15}\selectfont 647};
\node[inner sep=0] at (axis cs:1253,557) {\tabf\fontsize{13.6}{15}\selectfont 130,564};
\node[anchor=west,inner sep=0] at (axis cs:850,577) {\tabf\fontsize{13.6}{15}\selectfont Low-medium (10-20\%)};
\node[inner sep=0] at (axis cs:1088,577) {\tabf\fontsize{13.6}{15}\selectfont 125};
\node[inner sep=0] at (axis cs:1253,577) {\tabf\fontsize{13.6}{15}\selectfont 12,048};
\node[anchor=west,inner sep=0] at (axis cs:850,596) {\tabf\fontsize{13.6}{15}\selectfont Medium-high (20-40\%)};
\node[inner sep=0] at (axis cs:1088,596) {\tabf\fontsize{13.6}{15}\selectfont 136};
\node[inner sep=0] at (axis cs:1253,596) {\tabf\fontsize{13.6}{15}\selectfont 29,229};
\node[anchor=west,inner sep=0] at (axis cs:850,616) {\tabf\fontsize{13.6}{15}\selectfont High (40-80\%)};
\node[inner sep=0] at (axis cs:1088,616) {\tabf\fontsize{13.6}{15}\selectfont 43};
\node[inner sep=0] at (axis cs:1253,616) {\tabf\fontsize{13.6}{15}\selectfont 3,379};
\node[anchor=west,inner sep=0] at (axis cs:850,636) {\tabf\fontsize{13.6}{15}\selectfont Extremely high (>80\%)};
\node[inner sep=0] at (axis cs:1088,636) {\tabf\fontsize{13.6}{15}\selectfont 10};
\node[inner sep=0] at (axis cs:1253,636) {\tabf\fontsize{13.6}{15}\selectfont 859};
\end{axis}
\end{tikzpicture}
\end{document}
